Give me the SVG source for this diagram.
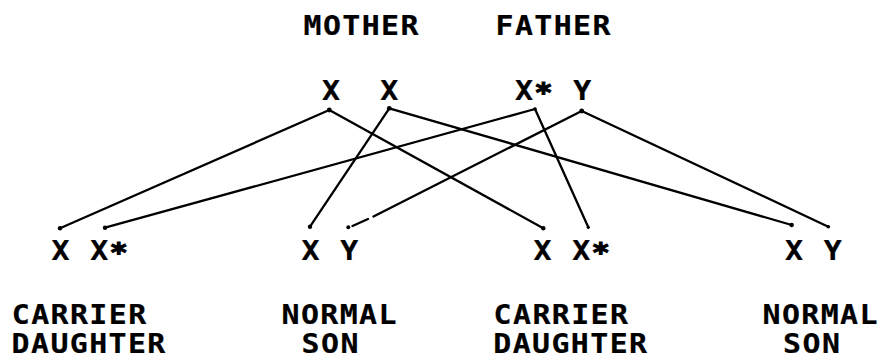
<svg xmlns="http://www.w3.org/2000/svg" width="881" height="358" viewBox="0 0 881 358">
  <style>
    /* monospaced lettering, widened by each text's scale(1.15 1) transform */
    text { font-family: "DejaVu Sans Mono", "Liberation Mono", monospace; font-size: 26px; font-weight: bold; letter-spacing: 1.22px; fill: #000; stroke: #000; stroke-width: 0.2px; }
    .star { stroke-width: 1.2px; }
    .wire { stroke: #000; stroke-width: 2.3; fill: none; stroke-linecap: round; }
    .dot { fill: #000; }
  </style>
  <rect width="881" height="358" fill="#fff"/>

  <!-- inheritance lines from each parental chromosome to the offspring -->
  <g id="connectors">
    <path class="wire" d="M329.3 110 L60 228.3"/>
    <path class="wire" d="M329.3 110 L543.3 228.3"/>
    <path class="wire" d="M389.3 108.3 L310 226.7"/>
    <path class="wire" d="M389.3 108.3 L791.7 225"/>
    <path class="wire" d="M535 109 L105 227.7"/>
    <path class="wire" d="M535 109 L588.3 227.3"/>
    <path class="wire" d="M581.7 111 L373.5 216.5"/>
    <path class="wire" d="M368 219 L352.5 226"/>
    <path class="wire" d="M581.7 111 L828.3 226.7"/>
    <circle class="dot" cx="329.3" cy="110" r="2.4"/>
    <circle class="dot" cx="389.3" cy="108.3" r="2.4"/>
    <circle class="dot" cx="535" cy="109" r="1.8"/>
    <circle class="dot" cx="581.7" cy="111" r="2.4"/>
    <circle class="dot" cx="60" cy="228.3" r="2.2"/>
    <circle class="dot" cx="105" cy="227.7" r="2.2"/>
    <circle class="dot" cx="310" cy="226.7" r="2.2"/>
    <circle class="dot" cx="348.3" cy="227.3" r="2"/>
    <circle class="dot" cx="543.3" cy="228.3" r="2.2"/>
    <circle class="dot" cx="588.3" cy="227.3" r="1.6"/>
    <circle class="dot" cx="791.7" cy="225" r="2.2"/>
    <circle class="dot" cx="828.3" cy="226.7" r="1.8"/>
  </g>

  <g id="mother">
    <text transform="translate(303.5 35) scale(1.15 1)">MOTHER</text>
    <text transform="translate(322 100) scale(1.15 1)" xml:space="preserve">X  X</text>
  </g>

  <g id="father">
    <text transform="translate(495.5 35) scale(1.15 1)">FATHER</text>
    <text transform="translate(515 100) scale(1.15 1)" xml:space="preserve">X<tspan class="star" dy="2">*</tspan><tspan dy="-2"> Y</tspan></text>
  </g>

  <g id="child-1">
    <text transform="translate(51.5 260) scale(1.15 1)">X X<tspan class="star" dy="2">*</tspan></text>
    <text transform="translate(11.8 323.5) scale(1.15 1)">CARRIER</text>
    <text transform="translate(11.6 353) scale(1.15 1)">DAUGHTER</text>
  </g>

  <g id="child-2">
    <text transform="translate(301.5 260) scale(1.15 1)">X Y</text>
    <text transform="translate(281.5 323.5) scale(1.15 1)">NORMAL</text>
    <text transform="translate(301.6 353) scale(1.15 1)">SON</text>
  </g>

  <g id="child-3">
    <text transform="translate(533.5 260) scale(1.15 1)">X X<tspan class="star" dy="2">*</tspan></text>
    <text transform="translate(493.6 323.5) scale(1.15 1)">CARRIER</text>
    <text transform="translate(493.3 353) scale(1.15 1)">DAUGHTER</text>
  </g>

  <g id="child-4">
    <text transform="translate(785 260) scale(1.15 1)">X Y</text>
    <text transform="translate(762.5 323.5) scale(1.15 1)">NORMAL</text>
    <text transform="translate(783.1 353) scale(1.15 1)">SON</text>
  </g>
</svg>
